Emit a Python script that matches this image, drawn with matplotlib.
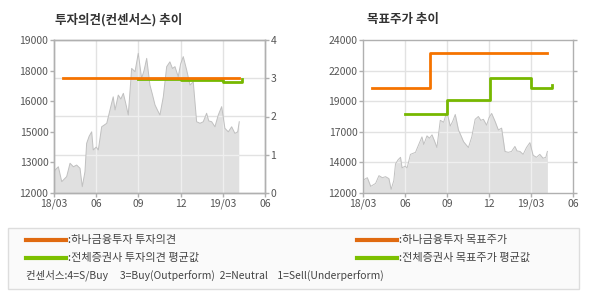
import matplotlib.pyplot as plt
from matplotlib.patches import Rectangle
from matplotlib.lines import Line2D
import numpy as np

plt.rcParams['font.family'] = ['Noto Sans CJK KR', 'DejaVu Sans']

# months since 2018-03
price_x = [0.0, 0.07, 0.31, 0.55, 0.9, 1.14, 1.38, 1.61, 1.85, 2.01, 2.2, 2.32, 2.5, 2.68,
           2.79, 3.0, 3.15, 3.39, 3.55, 3.75, 3.98, 4.21, 4.34, 4.57, 4.75, 4.93, 5.1,
           5.28, 5.52, 5.76, 5.99, 6.23, 6.4, 6.59, 6.82, 7.0, 7.18, 7.35, 7.53, 7.77,
           8.01, 8.24, 8.42, 8.6, 8.83, 9.0, 9.19, 9.43, 9.67, 9.9, 10.14, 10.38, 10.61,
           10.85, 11.0, 11.21, 11.44, 11.68, 11.92, 12.15, 12.39, 12.63, 12.86, 13.06, 13.17]
price = [12900, 13050, 13200, 12520, 12750, 13360, 13200, 13280, 13130, 12290, 12970, 14270,
         14600, 14800, 13970, 14100, 13970, 15030, 15100, 15190, 15800, 16400, 15800, 16480,
         16300, 16560, 16100, 15570, 17700, 17550, 18390, 17250, 17600, 18160, 16940, 16500,
         16030, 15800, 15570, 16400, 17780, 18000, 17700, 17780, 17320, 17900, 18240, 17630,
         16940, 17090, 15260, 15190, 15260, 15650, 15300, 15260, 15030, 15570, 15950, 14960,
         14800, 15030, 14730, 14800, 15260]

# 투자의견 (right axis, 0-4)
hana_op_x = [0.64, 13.15]
hana_op = [3.0, 3.0]
avg_op_x = [6.0, 9.0, 9.0, 12.0, 12.0, 13.4, 13.4]
avg_op = [2.98, 2.98, 2.95, 2.95, 2.9, 2.9, 2.98]

# 목표주가
hana_tp_x = [0.64, 4.79, 4.79, 13.15]
hana_tp = [20200, 20200, 23000, 23000]
avg_tp_x = [3.0, 6.0, 6.0, 9.05, 9.05, 12.0, 12.0, 13.5, 13.5]
avg_tp = [18200, 18200, 19300, 19300, 21000, 21000, 20200, 20200, 20500]

month_ticks = [0, 3, 6, 9, 12, 15]
month_labels = ['18/03', '06', '09', '12', '19/03', '06']
left_labels = ['12000', '13000', '15000', '16000', '18000', '19000']
right_labels = ['12000', '14000', '17000', '19000', '22000', '24000']
op_ticks = [0, 1, 2, 3, 4]

ORANGE = '#f57300'
GREEN = '#77b800'
TXT = '#555555'
GRID = '#e2e2e2'
GRID_IN = '#efefef'
SPINE = '#b0b0b0'

fig = plt.figure(figsize=(5.9, 3.0), dpi=100)


def style(ax):
    for s in ax.spines.values():
        s.set_color(SPINE)
        s.set_linewidth(1)
    ax.tick_params(colors=SPINE, labelcolor=TXT, labelsize=7.5, length=3, width=1, pad=1)
    ax.set_xlim(0, 15)
    ax.set_xticks(month_ticks)
    ax.set_xticklabels(month_labels)


def draw_price(ax, hlines):
    # gridlines under the area, then lighter copies clipped to the area
    for m in month_ticks[1:-1]:
        ax.axvline(m, color=GRID, lw=1, zorder=0)
    for h in hlines:
        ax.axhline(h, color=GRID, lw=1, zorder=0)
    area = ax.fill_between(price_x, price, 0, color='#e0e0e0', lw=0, zorder=1)
    clip = area.get_paths()[0]
    for m in month_ticks[1:-1]:
        ln = ax.axvline(m, color=GRID_IN, lw=1, zorder=1.5)
        ln.set_clip_path(clip, ax.transData)
    for h in hlines:
        ln = ax.axhline(h, color=GRID_IN, lw=1, zorder=1.5)
        ln.set_clip_path(clip, ax.transData)
    ax.plot(price_x, price, color='#c0c0c0', lw=0.7, zorder=2)


# left chart
ax1 = fig.add_axes([54 / 590, 107 / 300, 211 / 590, 153 / 300])
style(ax1)
ax1.set_ylim(12000, 19000)
ax1.set_yticks(np.linspace(12000, 19000, 6))
ax1.set_yticklabels(left_labels)
draw_price(ax1, [12000 + v * 7000 / 4 for v in op_ticks[1:-1]])
ax1b = ax1.twinx()
style(ax1b)
ax1b.set_ylim(0, 4)
ax1b.set_yticks(op_ticks)
ax1b.patch.set_visible(False)
ax1b.plot(avg_op_x, avg_op, color=GREEN, lw=2, zorder=3)
ax1b.plot(hana_op_x, hana_op, color=ORANGE, lw=2, zorder=4)

# right chart
ax2 = fig.add_axes([363 / 590, 107 / 300, 210 / 590, 153 / 300])
style(ax2)
ax2.set_ylim(12000, 24000)
ts = np.linspace(12000, 24000, 6)
ax2.set_yticks(ts)
ax2.set_yticklabels(right_labels)
draw_price(ax2, ts[1:-1])
ax2.plot(avg_tp_x, avg_tp, color=GREEN, lw=2, zorder=3)
ax2.plot(hana_tp_x, hana_tp, color=ORANGE, lw=2, zorder=4)
ax2.tick_params(right=True)

# titles
fig.text(55 / 590, 1 - 20 / 300, '투자의견(컨센서스) 추이', fontsize=9, fontweight='bold',
         color='#333333', va='center')
fig.text(367 / 590, 1 - 20 / 300, '목표주가 추이', fontsize=9, fontweight='bold',
         color='#333333', va='center')

# legend box
fig.patches.append(Rectangle((8 / 590, 1 - 289 / 300), 571 / 590, 61 / 300,
                             transform=fig.transFigure, facecolor='#fafafa',
                             edgecolor='#dddddd', lw=1))


def leg(x0, x1, y, color, label):
    fig.add_artist(Line2D([x0 / 590, x1 / 590], [1 - y / 300] * 2, color=color, lw=3))
    fig.text((x1 + 2) / 590, 1 - y / 300, ':' + label, fontsize=8, color='#444444', va='center')


leg(26, 66, 240, '#e06a10', '하나금융투자 투자의견')
leg(26, 66, 258, '#7cc000', '전체증권사 투자의견 평균값')
leg(357, 397, 240, '#e06a10', '하나금융투자 목표주가')
leg(357, 397, 258, '#7cc000', '전체증권사 목표주가 평균값')
fig.text(26 / 590, 1 - 275 / 300,
         '컨센서스:4=S/Buy     3=Buy(Outperform)  2=Neutral    1=Sell(Underperform)',
         fontsize=7.5, color='#444444', va='center')

fig.savefig('out.png', dpi=100)
